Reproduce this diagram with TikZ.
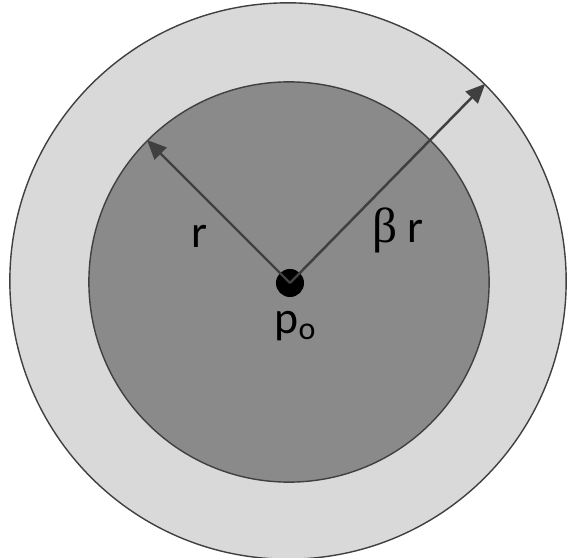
\documentclass[tikz,border=0pt]{standalone}
\usepackage{fontspec}
\setmainfont{Carlito}
\newfontfamily\greekfont{Liberation Serif}
\usetikzlibrary{arrows.meta}
\definecolor{ringcol}{RGB}{217, 217, 217}
\definecolor{diskcol}{RGB}{138, 138, 138}
\definecolor{linecol}{RGB}{64, 64, 64}

\begin{document}
\begin{tikzpicture}[x=0.01cm, y=-0.01cm,
      ring/.style={circle, draw=linecol, fill=ringcol, line width=0.4pt},
      disk/.style={circle, draw=linecol, fill=diskcol, line width=0.4pt},
      radius/.style={-{Triangle[length=5.5pt, width=4.8pt]}, linecol, line width=0.7pt},
      lbl/.style={font=\fontsize{13}{15}\selectfont}]

      \useasboundingbox (0,0) rectangle (567,558);

      % Disques
      \node[ring, minimum size=5.56cm] (outer) at (288, 281) {};
      \node[disk, minimum size=4cm] (inner) at (289, 282) {};

      % Centre
      \node[circle, fill=black, inner sep=0pt, minimum size=0.28cm] (po) at (290, 283) {};

      % Rayons
      \draw[radius] (po.center) -- (inner.135);
      \draw[radius] (po.center) -- (outer.45);

      % Etiquettes
      \node[lbl] (rlab) at (199, 236) {r};
      \node[lbl] (brlab) at (398, 230) {{\greekfont\fontsize{14}{16}\selectfont β} r};
      \node[lbl] (polab) at (296, 326) {p\textsubscript{o}};
    \end{tikzpicture}
\end{document}
